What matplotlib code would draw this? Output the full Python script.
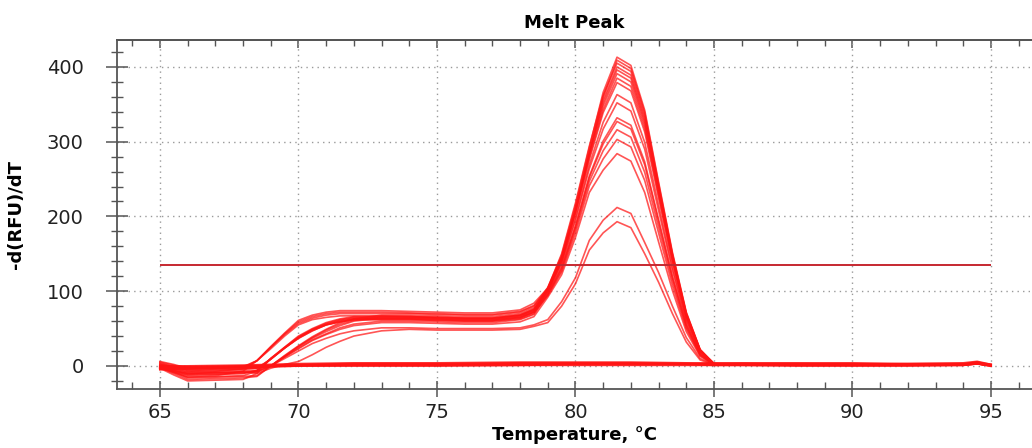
import matplotlib
matplotlib.use("Agg")
import matplotlib.pyplot as plt
from matplotlib.ticker import MultipleLocator

# temperature points for the amplified wells
temps = [65, 65.5, 66, 67, 68, 68.5, 69, 69.5, 70, 70.5, 71, 71.5, 72, 73, 74,
         75, 76, 77, 78, 78.5, 79, 79.5, 80, 80.5, 81, 81.5, 82, 82.5, 83, 83.5,
         84, 84.5, 85, 86, 90, 94, 94.5, 95]

curve_01 = [2, -3, -8, -7, -4, 7, 25, 42, 57, 64, 68, 70, 70, 70, 70, 69, 68, 68, 72, 80,
            105, 148, 215, 292, 366, 413, 402, 342, 246, 152, 72, 22, 3, 2, 2, 2, 4, 1]
curve_02 = [-3, -8, -12, -11, -10, -6, 10, 25, 40, 50, 58, 63, 66, 66, 66, 65, 64, 64, 68, 76,
            100, 140, 206, 285, 360, 409, 398, 339, 244, 150, 71, 22, 3, 2, 1, 2, 3, 0]
curve_03 = [5, 1, -4, -3, -2, 7, 26, 44, 61, 68, 72, 74, 74, 74, 73, 72, 71, 71, 75, 84,
            104, 150, 218, 294, 362, 405, 394, 335, 241, 149, 70, 21, 3, 3, 3, 2, 5, 1]
curve_04 = [-2, -9, -15, -14, -13, -7, 10, 24, 38, 49, 56, 61, 64, 64, 64, 63, 62, 62, 66, 74,
            104, 145, 211, 286, 356, 400, 389, 331, 238, 147, 69, 21, 3, 2, 2, 1, 3, 1]
curve_05 = [0, -5, -10, -9, -8, -8, 0, 14, 27, 39, 49, 58, 63, 68, 68, 67, 66, 66, 70, 78,
            103, 145, 209, 284, 352, 396, 385, 327, 235, 145, 69, 21, 3, 2, 2, 2, 4, 2]
curve_06 = [3, -1, -6, -5, -4, -3, 9, 24, 37, 47, 55, 59, 62, 62, 62, 61, 60, 60, 64, 72,
            103, 144, 208, 282, 348, 391, 380, 323, 232, 143, 68, 20, 3, 2, 2, 2, 3, 1]
curve_07 = [-2, -10, -18, -17, -16, -14, 0, 13, 26, 38, 48, 56, 61, 66, 66, 65, 64, 64, 68, 76,
            102, 142, 206, 279, 343, 385, 374, 318, 229, 141, 66, 20, 3, 2, 2, 2, 4, 1]
curve_08 = [6, 2, -3, -2, -1, 7, 25, 43, 59, 66, 70, 72, 72, 72, 71, 70, 69, 69, 73, 81,
            102, 141, 204, 276, 339, 379, 368, 313, 225, 139, 65, 20, 3, 3, 2, 2, 4, 1]
curve_09 = [0, -6, -12, -11, -10, -6, 9, 24, 38, 48, 55, 60, 63, 63, 63, 62, 61, 61, 65, 72,
            100, 138, 198, 269, 326, 363, 352, 299, 215, 132, 62, 19, 2, 2, 1, 2, 3, 1]
curve_10 = [-3, -12, -20, -19, -18, -10, 10, 25, 39, 49, 57, 62, 65, 65, 65, 64, 63, 63, 67, 74,
            99, 136, 195, 264, 317, 352, 341, 290, 208, 128, 60, 18, 2, 2, 2, 1, 3, 0]
curve_11 = [1, -4, -8, -7, -6, -6, 0, 12, 24, 35, 43, 51, 56, 60, 60, 59, 58, 58, 62, 69,
            97, 132, 188, 254, 301, 332, 322, 273, 196, 120, 56, 16, 2, 2, 2, 2, 4, 1]
curve_12 = [-1, -8, -14, -13, -7, 7, 23, 40, 55, 62, 65, 67, 67, 67, 66, 65, 64, 64, 68, 75,
            96, 131, 186, 252, 297, 327, 317, 269, 193, 118, 55, 16, 2, 2, 2, 2, 3, 1]
curve_13 = [4, -1, -6, -5, -4, -3, 9, 24, 37, 47, 55, 59, 62, 62, 62, 61, 60, 60, 63, 70,
            95, 128, 183, 247, 288, 316, 306, 259, 186, 114, 52, 15, 2, 2, 2, 2, 4, 1]
curve_14 = [-3, -7, -10, -9, -8, -8, 0, 13, 26, 37, 46, 54, 60, 64, 64, 63, 62, 62, 65, 72,
            94, 126, 178, 241, 277, 303, 293, 248, 178, 108, 50, 14, 2, 2, 2, 2, 3, 1]
curve_15 = [0, -8, -16, -15, -14, -13, 0, 12, 23, 34, 42, 49, 54, 58, 58, 57, 56, 56, 59, 66,
            92, 122, 172, 232, 262, 284, 274, 232, 166, 101, 46, 13, 2, 2, 2, 2, 4, 1]
curve_16 = [2, -1, -4, -3, -2, -3, 0, 10, 20, 30, 37, 43, 47, 51, 51, 50, 50, 50, 51, 55,
            62, 86, 118, 168, 195, 212, 204, 165, 125, 80, 38, 10, 2, 2, 2, 2, 3, 1]
curve_17 = [-2, -6, -10, -9, -8, -10, -3, 2, 6, 15, 25, 33, 40, 47, 49, 48, 48, 48, 49, 53,
            58, 80, 110, 155, 178, 193, 185, 150, 112, 70, 32, 8, 2, 2, 1, 2, 3, 1]

# no-amplification wells, flat near zero
temps_flat = [65, 66, 68, 70, 72, 75, 78, 80, 82, 84, 85, 86, 88, 90, 92, 94, 94.5, 95]
flat_01 = [-3, -2, -1, 1, 2, 2, 2, 3, 3, 3, 2, 2, 2, 2, 2, 2, 5, 1]
flat_02 = [-1, -1, 0, 2, 3, 3, 4, 4, 4, 3, 3, 3, 3, 2, 3, 3, 5, 2]
flat_03 = [-4, -3, -2, 0, 0, 0, 1, 1, 1, 1, 1, 1, 0, 0, 0, 1, 3, 0]
flat_04 = [0, 0, 1, 3, 4, 4, 5, 5, 5, 4, 4, 4, 4, 4, 3, 4, 6, 2]
flat_05 = [-2, -2, -1, 0, 1, 1, 1, 2, 2, 2, 1, 1, 1, 1, 1, 1, 3, 0]
flat_06 = [-5, -4, -2, 1, 2, 2, 3, 3, 3, 3, 2, 3, 2, 2, 2, 2, 4, 1]

threshold = 135
threshold_range = [65, 95]

x_ticks = [65, 70, 75, 80, 85, 90, 95]
y_ticks = [0, 100, 200, 300, 400]

plt.rcParams["font.family"] = ["DejaVu Sans"]

fig = plt.figure(figsize=(10.32, 4.48), dpi=100)
ax = fig.add_axes([117 / 1032, 59 / 448, 915 / 1032, 349 / 448])

line_color = "#ff1414"
for c in [curve_01, curve_02, curve_03, curve_04, curve_05, curve_06, curve_07, curve_08,
          curve_09, curve_10, curve_11, curve_12, curve_13, curve_14, curve_15, curve_16,
          curve_17]:
    ax.plot(temps, c, color=line_color, lw=1.2, alpha=0.72, zorder=3)
for c in [flat_01, flat_02, flat_03, flat_04, flat_05, flat_06]:
    ax.plot(temps_flat, c, color=line_color, lw=1.4, alpha=0.85, zorder=3)

# threshold line
ax.hlines(threshold, threshold_range[0], threshold_range[1], color="#c62830", lw=1.4, zorder=4)

ax.set_xlim(63.45, 96.48)
ax.set_ylim(-30.8, 436)

ax.set_xticks(x_ticks)
ax.set_yticks(y_ticks)
ax.xaxis.set_minor_locator(MultipleLocator(1))
ax.yaxis.set_minor_locator(MultipleLocator(20))

ax.grid(True, which="major", color="#9a9a9a", linestyle=(0, (1, 3)), lw=1.0)
ax.set_axisbelow(True)

spine_color = "#555555"
ax.spines["right"].set_visible(False)
for s in ["left", "bottom", "top"]:
    ax.spines[s].set_color(spine_color)
    ax.spines[s].set_linewidth(1.3)

ax.tick_params(axis="x", which="major", direction="inout", length=12, width=1.1,
               color=spine_color, labelsize=14, labelcolor="#222222", pad=4)
ax.tick_params(axis="x", which="minor", direction="in", length=5, width=1.0, color=spine_color)
ax.tick_params(axis="y", which="major", direction="inout", length=16, width=1.1,
               color=spine_color, labelsize=14, labelcolor="#222222", pad=16)
ax.tick_params(axis="y", which="minor", direction="inout", length=8, width=1.0, color=spine_color)

# ticks on the top edge, pointing inward
top = ax.secondary_xaxis("top")
top.set_xticks(x_ticks)
top.xaxis.set_minor_locator(MultipleLocator(1))
top.tick_params(which="major", direction="in", length=6, width=1.1, color=spine_color,
                labeltop=False)
top.tick_params(which="minor", direction="in", length=4, width=1.0, color=spine_color)
top.spines["top"].set_color(spine_color)
top.spines["top"].set_linewidth(1.3)

ax.set_title("Melt Peak", fontsize=13, fontweight="bold", pad=9)
ax.set_xlabel("Temperature, °C", fontsize=13, fontweight="bold", labelpad=3)
ax.set_ylabel("-d(RFU)/dT", fontsize=13, fontweight="bold")
ax.yaxis.set_label_coords(-0.1, 0.5)

fig.savefig("out.png", dpi=100)
